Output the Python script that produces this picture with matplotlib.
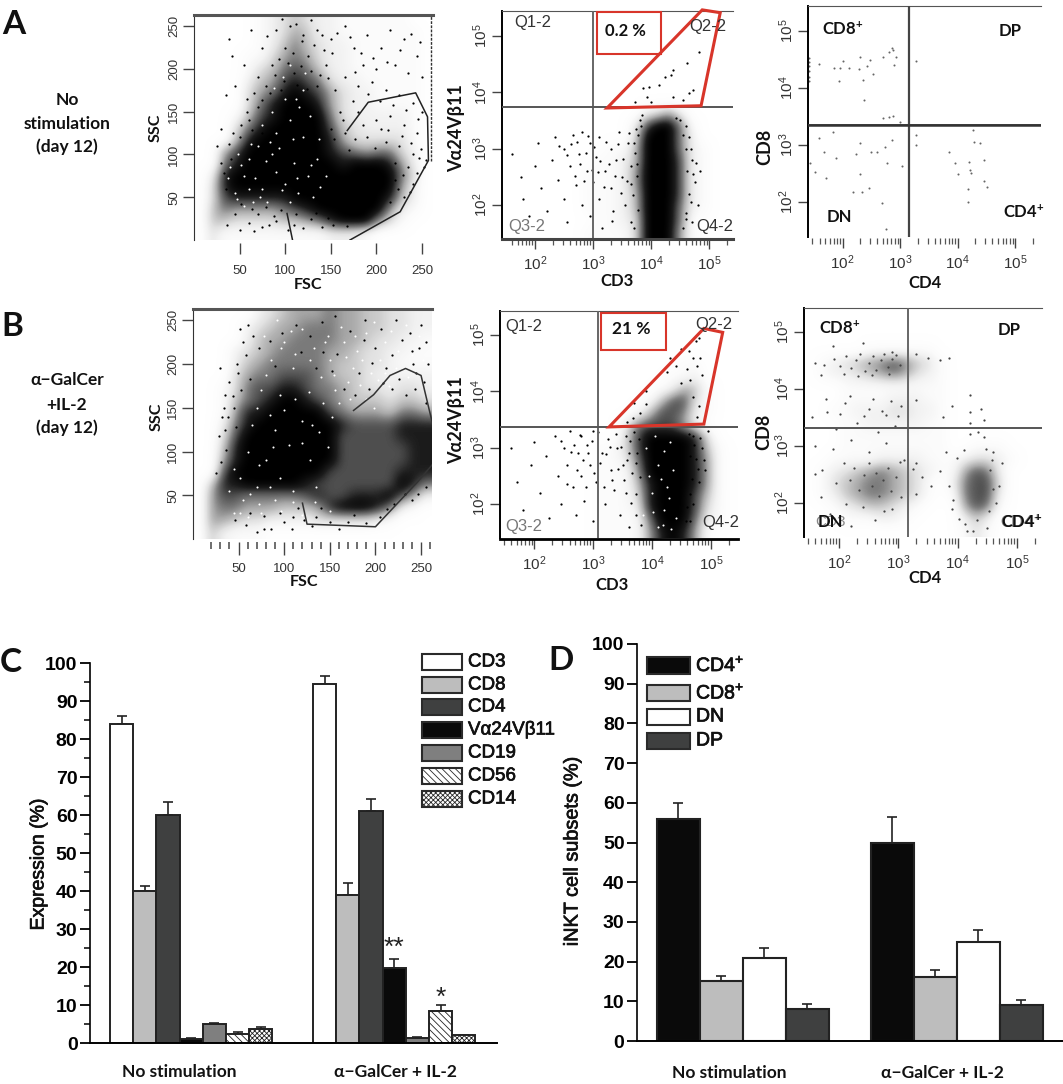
import numpy as np
import matplotlib
matplotlib.use("Agg")
import matplotlib.pyplot as plt
import matplotlib.patheffects as pe
from matplotlib.colors import LinearSegmentedColormap
from matplotlib.patches import Rectangle
from matplotlib.ticker import FixedLocator, NullFormatter

W, H = 1063, 1084

# bar charts
C_GROUPS = ["No stimulation", "α−GalCer + IL-2"]
C_MARKERS = ["CD3", "CD8", "CD4", "Vα24Vβ11", "CD19", "CD56", "CD14"]
C_NOSTIM = [84, 40, 60, 1, 5, 2.5, 3.7]
C_NOSTIM_TOP = [86, 41.3, 63.4, 1.2, 5.3, 2.8, 4.3]
C_GALCER = [94.5, 39, 61, 19.7, 1.3, 8.5, 2]
C_GALCER_TOP = [96.7, 42.2, 64.2, 22.2, 1.6, 10, 2.2]

D_SUBSETS = ["CD4$\\mathregular{^{+}}$", "CD8$\\mathregular{^{+}}$", "DN", "DP"]
D_NOSTIM = [56, 15, 21, 8]
D_NOSTIM_TOP = [60, 16.3, 23.5, 9.2]
D_GALCER = [50, 16, 25, 9]
D_GALCER_TOP = [56.3, 18, 28, 10.4]

# flow plots: coarse density, 0 empty .. 9 black, top row first
A1_DENSITY = [
    "00000123432211111100",
    "00000123542211111110",
    "00000124643221111110",
    "00001135653221111110",
    "00001346764221111110",
    "00002457876322111110",
    "00003568987532211110",
    "00003689998532211110",
    "00014789999632222210",
    "00036899999743222210",
    "00048999999853333310",
    "00579999999876566320",
    "00689999999989998520",
    "02899999999999999630",
    "03899999999999999520",
    "03788888999999998420",
    "04655556789999995210",
    "04433334456899953100",
    "03111111111222100000",
]
A2_DENSITY = [
    "00000000000000000000",
    "00000000000000000000",
    "00000000000000000000",
    "00000000000000000000",
    "00000000000000000000",
    "00000000000000000000",
    "00000000000000000000",
    "00000000000000000000",
    "00000000000023520000",
    "00000000000279961000",
    "00000000000399962000",
    "00000000011499962100",
    "00000000112499972100",
    "00000001112599972100",
    "00000001112599972100",
    "00000001112499972100",
    "00000001112499962100",
    "00000000112399961000",
    "00000001111399951000",
]
B1_DENSITY = [
    "00000234555655443322",
    "00002345566655443322",
    "00002455666655433221",
    "00023456666554332211",
    "00024566666544332111",
    "00035667776544322222",
    "00136778876654332332",
    "00146789987654443443",
    "00158899999765554665",
    "00268999999987777888",
    "00379999999977777888",
    "00489999999977777788",
    "00589999999977777788",
    "00799999999777777888",
    "04889999987777777986",
    "05776666678778889752",
    "05665554445899986210",
    "05543322223333321000",
    "04211100000000000000",
]
B2_DENSITY = [
    "00000000000000000000",
    "00000000000000000000",
    "00000000000000000000",
    "00000000000000000000",
    "00000000000000011000",
    "00000000000000112000",
    "00000000000001254100",
    "00000000000014773100",
    "00000000000147762100",
    "00000000002677752000",
    "00000000003799998300",
    "00000000113799998410",
    "00000000112699998510",
    "00000000111599998510",
    "00000000111489998510",
    "00000000111389997410",
    "00000000111289997310",
    "00000000111169996210",
    "00000000111158985100",
]
B3_DENSITY = [
    "00000000000000000000",
    "00000000000000000000",
    "00000000000000000000",
    "00000111111000000000",
    "01234567643100000000",
    "01223456532100000000",
    "00011111111100000000",
    "00011112221100000000",
    "00112223322100000000",
    "00011222221100000000",
    "00011111111100000000",
    "00011111111100111000",
    "00111122221112332100",
    "01234565432115762000",
    "01345665431026773000",
    "01245665431016772000",
    "00123443210005761000",
    "00011122100002420000",
    "00000000000001310000",
]

A1_DOTS = [(38, 235), (42, 215), (55, 205), (62, 245), (75, 225), (80, 238), (70, 190), (45, 180), (58, 165),
           (90, 245), (105, 250), (120, 240), (135, 245), (150, 235), (165, 250), (175, 225), (190, 240),
           (205, 225), (215, 245), (230, 235), (245, 215), (250, 190), (235, 195), (220, 205), (200, 200),
           (185, 205), (165, 190), (155, 175), (180, 180), (195, 185), (210, 175), (225, 170), (240, 160),
           (250, 150), (245, 125), (230, 135), (215, 145), (200, 140), (180, 150), (160, 150), (150, 130),
           (165, 125), (190, 120), (210, 115), (225, 110), (240, 100), (252, 85), (235, 85), (220, 70),
           (240, 65), (230, 50), (215, 45), (35, 170), (30, 130), (25, 110), (30, 90), (35, 60), (60, 20),
           (75, 15), (50, 12), (90, 22), (120, 14), (140, 15), (128, 25), (70, 30), (95, 35), (45, 30),
           (140, 240), (100, 225), (125, 215), (85, 205), (110, 195), (145, 205), (95, 175), (135, 180),
           (60, 140), (70, 155), (50, 120), (75, 125), (170, 105), (185, 135), (205, 130), (220, 90),
           (97, 258), (112, 252), (128, 257), (118, 233), (131, 228), (143, 222), (108, 218), (93, 212),
           (103, 207), (117, 203), (128, 198), (138, 193), (89, 193), (99, 186), (113, 181), (124, 176),
           (147, 189), (151, 218), (157, 242), (171, 237), (183, 218), (196, 213), (212, 208), (226, 222),
           (238, 241), (248, 232), (177, 196), (191, 171), (204, 162), (218, 158), (232, 152), (246, 142),
           (174, 162), (163, 140), (154, 118), (176, 118), (198, 108), (213, 128), (228, 122), (238, 113),
           (249, 106), (254, 93), (244, 78), (229, 76), (237, 56), (224, 60), (247, 96), (83, 172), (74, 164),
           (66, 172), (79, 180), (58, 150), (64, 128), (52, 135), (43, 125), (38, 112), (41, 95), (33, 78),
           (88, 28), (110, 18), (103, 12), (82, 18), (66, 10), (134, 32), (147, 26), (152, 18), (36, 18),
           (168, 16), (64, 36), (51, 42), (79, 38), (112, 30)]
A1_GAPS = [(40, 85), (55, 75), (60, 95), (75, 60), (85, 100), (100, 65), (110, 90), (120, 120), (130, 50),
           (60, 60), (45, 55), (90, 125), (105, 140), (145, 75), (90, 80), (70, 110), (48, 100), (125, 75),
           (80, 45), (105, 45), (65, 45), (55, 40), (115, 155), (85, 150), (100, 165), (120, 175), (135, 95),
           (52, 88), (67, 72), (79, 92), (96, 58), (113, 72), (37, 72), (62, 112), (74, 135), (93, 108),
           (108, 118), (127, 145), (137, 118), (98, 190), (112, 165), (122, 195), (105, 205), (88, 178),
           (128, 88), (114, 55), (72, 50), (47, 48), (138, 62), (83, 115)]
A1_GATE_LEFT = ([102, 108], [31, 0])
A1_GATE_X = [171, 226, 257, 256, 243, 191, 168]
A1_GATE_Y = [0, 33, 93, 144, 172, 161, 128]

B1_DOTS = [(30, 195), (35, 165), (34, 150), (32, 140), (40, 180), (48, 200), (55, 225), (60, 245), (25, 75),
           (35, 125), (45, 150), (250, 245), (255, 225), (240, 215), (258, 200), (245, 190), (130, 15),
           (110, 25), (85, 12), (100, 20), (70, 8), (95, 30), (115, 35), (135, 25), (150, 20), (170, 20),
           (190, 18), (205, 25), (220, 40), (240, 45), (255, 60), (52, 240), (66, 232), (72, 218), (58, 210),
           (49, 190), (62, 183), (44, 163), (53, 170), (38, 140), (47, 128), (28, 118), (36, 102), (31, 88),
           (206, 240), (223, 250), (238, 235), (229, 228), (248, 218), (218, 210), (200, 218), (187, 228),
           (212, 196), (196, 201), (182, 190), (241, 200), (253, 180), (226, 183), (208, 178), (193, 172),
           (178, 165), (165, 172), (152, 192), (143, 214), (128, 232), (113, 245), (98, 235), (84, 226),
           (90, 198), (118, 214), (135, 196), (158, 212), (172, 238), (189, 250), (156, 255), (141, 248),
           (243, 172), (255, 155), (234, 165), (218, 172), (78, 12), (58, 16), (46, 22), (62, 30), (78, 26),
           (122, 22), (108, 12), (140, 35), (160, 12), (176, 28), (213, 34), (232, 52), (247, 52)]
B1_GAPS = [(190, 235), (210, 225), (225, 215), (205, 205), (230, 195), (195, 190), (180, 215), (165, 225),
           (150, 205), (170, 180), (215, 175), (190, 160), (160, 155), (140, 185), (120, 240), (100, 225),
           (85, 205), (110, 195), (75, 170), (95, 165), (65, 130), (90, 125), (120, 135), (45, 80), (60, 100),
           (80, 90), (95, 70), (120, 110), (70, 60), (40, 55), (55, 45), (90, 45), (110, 55), (135, 60),
           (60, 25), (75, 30), (45, 30), (130, 130), (240, 210), (175, 195), (210, 190), (145, 225),
           (78, 232), (92, 250), (107, 238), (133, 218), (148, 232), (162, 242), (178, 232), (198, 248),
           (217, 238), (234, 245), (248, 232), (252, 205), (236, 185), (222, 195), (203, 182), (185, 205),
           (168, 208), (155, 188), (128, 205), (112, 212), (96, 218), (80, 188), (70, 150), (84, 142),
           (100, 148), (112, 160), (127, 168), (142, 155), (156, 170), (172, 160), (183, 176), (198, 150),
           (152, 140), (138, 122), (105, 108), (72, 85), (52, 70), (88, 105), (128, 90), (148, 105), (62, 52),
           (84, 60), (110, 42), (134, 42), (72, 40), (96, 32), (52, 30), (120, 28), (150, 32)]
B1_GATE_X = [120, 125, 200, 246, 268]
B1_GATE_Y = [41, 17, 14, 65, 92]
B1_GATE_TOP_X = [176, 198, 216, 233, 250, 255, 263]
B1_GATE_TOP_Y = [147, 165, 187, 195, 187, 165, 130]

A2_DOTS = [(4.83, 4.72), (4.62, 4.51), (4.38, 4.39), (4.34, 4.30), (4.24, 4.27), (3.86, 4.07), (3.97, 4.09),
           (4.14, 4.12), (4.72, 4.04), (4.66, 3.98), (3.93, 3.92), (4.38, 3.92), (3.72, 3.83), (4.0, 3.83),
           (4.55, 3.86), (1.6, 2.9), (1.75, 2.5), (1.8, 2.1), (1.9, 1.8), (2.0, 2.7), (2.05, 3.1), (2.1, 2.3),
           (2.2, 1.9), (2.3, 2.8), (2.35, 3.2), (2.4, 2.45), (2.5, 3.0), (2.5, 2.1), (2.55, 1.7), (2.6, 2.7),
           (2.65, 3.25), (2.7, 2.35), (2.75, 2.9), (2.8, 3.3), (2.8, 2.0), (2.9, 2.6), (2.95, 3.1), (2.95, 1.8),
           (3.0, 2.4), (3.05, 2.85), (3.1, 3.2), (3.1, 2.1), (3.15, 1.6), (3.2, 2.6), (3.3, 3.0), (3.3, 2.3),
           (3.35, 1.9), (3.4, 2.8), (3.45, 3.3), (3.5, 2.5), (3.55, 2.0), (3.6, 3.1), (3.65, 2.7), (3.65, 1.7),
           (4.65, 3.2), (4.7, 2.8), (4.75, 2.4), (4.8, 2.0), (4.7, 1.7), (4.85, 2.6), (4.6, 3.4), (4.55, 1.6),
           (2.42, 3.05), (2.55, 2.88), (2.62, 3.08), (2.68, 2.52), (2.72, 3.12), (2.78, 2.72), (2.84, 2.42),
           (2.88, 2.92), (2.92, 3.22), (2.98, 2.62), (3.02, 3.02), (3.08, 2.58), (3.12, 2.78), (3.18, 2.32),
           (3.22, 3.12), (3.28, 2.72), (3.32, 1.72), (3.38, 2.52), (3.42, 3.08), (3.48, 2.22), (3.52, 2.82),
           (3.58, 2.42), (3.62, 3.28), (3.68, 2.18), (3.72, 2.92), (3.75, 2.52), (3.78, 1.92), (3.74, 3.35),
           (3.71, 3.1), (3.66, 2.38), (3.7, 1.6), (4.6, 3.0), (4.62, 2.6), (4.65, 2.2), (4.6, 1.85),
           (4.68, 3.0), (4.72, 2.55), (4.78, 2.75), (4.68, 2.05), (4.55, 3.25), (4.42, 3.55), (3.8, 3.5),
           (3.85, 3.6), (3.78, 3.25), (3.76, 2.72), (3.82, 3.4), (4.5, 3.5), (4.6, 1.75)]
B2_DOTS = [(4.6, 4.4), (4.7, 4.6), (4.75, 4.9), (4.65, 4.2), (4.3, 4.6), (4.85, 4.3), (4.5, 4.75), (4.25, 4.35),
           (3.9, 4.0), (3.7, 3.8), (4.7, 3.9), (1.6, 3.0), (1.7, 2.4), (1.8, 1.9), (1.95, 2.7), (2.0, 3.1),
           (2.1, 2.2), (2.2, 2.85), (2.25, 1.75), (2.35, 3.2), (2.4, 2.5), (2.45, 2.0), (2.5, 3.0), (2.55, 2.7),
           (2.6, 3.3), (2.65, 2.3), (2.7, 1.8), (2.75, 2.9), (2.8, 3.2), (2.8, 2.5), (2.85, 2.05), (2.9, 3.05),
           (2.95, 2.7), (3.0, 3.3), (3.0, 1.7), (3.05, 2.4), (3.15, 2.9), (3.2, 2.0), (3.25, 3.15), (3.3, 2.6),
           (3.35, 2.25), (3.4, 3.0), (3.45, 1.8), (3.5, 2.7), (3.55, 3.2), (3.55, 2.2), (3.6, 2.9), (3.6, 1.6),
           (4.7, 3.2), (4.75, 2.8), (4.8, 2.4), (4.85, 3.0), (4.7, 2.0), (4.9, 2.6), (4.65, 1.7), (4.95, 3.3),
           (2.45, 3.12), (2.55, 2.35), (2.62, 2.92), (2.68, 3.05), (2.72, 2.6), (2.78, 3.22), (2.82, 2.78),
           (2.88, 2.3), (2.92, 2.9), (2.98, 3.12), (3.02, 2.55), (3.08, 3.28), (3.12, 2.72), (3.18, 2.3),
           (3.22, 2.88), (3.28, 3.02), (3.32, 2.42), (3.38, 3.25), (3.42, 2.62), (3.48, 3.02), (3.52, 2.42),
           (3.58, 2.78), (3.62, 3.12), (3.66, 2.55), (3.7, 3.28), (3.72, 2.18), (3.75, 2.9), (3.78, 3.15),
           (3.65, 2.02), (3.72, 1.8), (3.8, 2.48), (3.82, 1.62), (3.72, 2.72), (4.62, 3.25), (4.65, 2.85),
           (4.68, 2.45), (4.72, 3.05), (4.78, 2.62), (4.82, 3.18), (4.88, 2.78), (4.64, 2.18), (4.6, 1.95),
           (4.58, 1.7), (4.4, 4.45), (4.5, 4.15), (4.62, 4.72), (4.8, 4.95), (4.76, 4.45), (4.82, 4.6),
           (3.58, 3.45), (3.68, 3.52), (3.8, 3.62), (3.9, 3.78), (4.76, 3.55), (4.8, 3.75)]
B2_GAPS = [(3.9, 3.0), (4.1, 2.7), (4.25, 2.3), (4.0, 2.2), (4.2, 1.9), (3.85, 1.8), (4.3, 3.1), (4.1, 1.6),
           (4.35, 2.6), (4.05, 3.2), (3.95, 2.5), (4.4, 1.75), (4.2, 2.95), (4.15, 2.45), (4.28, 2.1),
           (4.02, 1.85), (4.18, 1.62), (4.32, 1.55)]

A3_DOTS = [(1.59, 4.43), (1.85, 4.35), (1.95, 4.35), (2.01, 4.48), (2.11, 4.35), (2.28, 4.33), (2.30, 4.55),
           (2.43, 4.39), (2.48, 4.49), (2.52, 4.25), (2.71, 4.55), (2.81, 4.64), (2.85, 4.71), (2.88, 4.67),
           (2.90, 4.40), (2.92, 4.55), (1.94, 4.12), (2.35, 4.15), (2.37, 3.79), (3.28, 4.47), (2.70, 3.47),
           (2.81, 3.50), (2.87, 3.51), (2.99, 3.41), (1.59, 3.12), (1.83, 3.22), (2.30, 3.03), (2.85, 3.09),
           (2.73, 2.97), (2.50, 2.88), (2.59, 2.88), (2.24, 2.84), (1.68, 2.88), (1.88, 2.78), (1.43, 2.68),
           (1.52, 2.53), (1.71, 2.43), (2.78, 2.69), (3.03, 2.63), (2.30, 2.49), (2.18, 2.18), (2.33, 2.18),
           (2.46, 2.25), (2.68, 1.98), (2.76, 1.52), (3.28, 3.18), (3.28, 3.00), (4.26, 3.27), (4.28, 3.06),
           (4.39, 3.03), (3.85, 2.88), (3.95, 2.68), (4.19, 2.70), (4.45, 2.73), (4.21, 2.56), (4.23, 2.51),
           (4.01, 2.49), (4.45, 2.37), (4.50, 2.27), (4.18, 2.22), (4.18, 2.00), (1.42, 4.2), (1.42, 4.3),
           (1.42, 4.38), (1.42, 4.45), (1.42, 4.52), (1.42, 4.12)]
B3_DOTS = [(1.9, 4.75), (2.4, 4.8), (2.9, 4.65), (3.3, 4.62), (3.5, 4.55), (3.7, 4.5), (3.85, 4.55), (4.2, 3.9),
           (3.3, 3.8), (3.9, 3.7), (4.2, 3.6), (4.4, 3.65), (4.45, 3.45), (4.2, 3.4), (4.35, 3.25), (3.75, 3.5),
           (1.6, 4.45), (1.7, 4.25), (1.55, 3.5), (1.8, 3.6), (1.95, 3.3), (2.1, 3.75), (2.3, 3.4), (2.5, 3.65),
           (2.65, 3.25), (2.8, 3.55), (2.95, 3.35), (3.05, 3.7), (1.6, 3.0), (1.9, 2.95), (2.2, 3.1), (2.5, 2.9),
           (2.8, 3.05), (3.1, 2.75), (1.6, 2.5), (1.7, 2.1), (1.85, 1.8), (2.2, 1.6), (2.6, 1.7), (2.9, 1.9),
           (3.3, 2.7), (3.4, 2.45), (3.55, 2.3), (3.3, 2.15), (3.25, 2.6), (3.8, 2.9), (4.6, 2.9), (4.75, 2.7),
           (4.7, 2.3), (4.65, 2.0), (4.45, 3.15), (4.2, 3.2), (3.9, 1.9), (4.5, 1.55), (4.15, 1.5),
           (1.75, 4.42), (1.92, 4.52), (2.02, 4.4), (2.12, 4.58), (2.2, 4.36), (2.28, 4.5), (2.36, 4.62),
           (2.44, 4.32), (2.5, 4.46), (2.58, 4.58), (2.62, 4.34), (2.7, 4.5), (2.76, 4.62), (2.82, 4.38),
           (2.9, 4.52), (2.96, 4.6), (3.02, 4.42), (2.08, 4.26), (2.32, 4.22), (2.56, 4.24), (2.84, 4.26),
           (1.78, 3.82), (2.02, 3.56), (2.18, 3.88), (2.42, 3.52), (2.58, 3.82), (2.72, 3.62), (2.88, 3.78),
           (3.0, 3.52), (1.72, 2.58), (1.95, 2.35), (2.08, 2.7), (2.18, 2.4), (2.26, 2.62), (2.34, 2.22),
           (2.42, 2.48), (2.5, 2.7), (2.56, 2.3), (2.62, 2.52), (2.68, 2.12), (2.74, 2.4), (2.82, 2.62),
           (2.88, 2.2), (2.96, 2.46), (3.02, 2.72), (2.12, 1.98), (2.4, 1.92), (2.76, 1.86), (3.05, 2.1),
           (3.7, 2.55), (3.85, 2.3), (3.92, 2.05), (3.98, 2.78), (4.02, 1.72), (4.1, 2.92), (4.12, 1.62),
           (4.55, 2.58), (4.6, 2.25), (4.58, 2.75), (4.48, 2.95), (4.52, 1.85), (4.25, 1.5), (4.32, 1.7)]

# gates and quadrant split lines, in log10 units for the fluorescence plots
A2_SPLIT = (3.0, 3.73)
A2_GATE_X = [3.24, 4.88, 5.19, 4.86]
A2_GATE_Y = [3.72, 5.46, 5.41, 3.76]
A2_BOX = (3.07, 4.68, 4.17, 5.43)
A3_SPLIT = (3.16, 3.35)
B2_SPLIT = (3.08, 3.37)
B2_GATE_X = [3.27, 4.88, 5.20, 4.88]
B2_GATE_Y = [3.37, 5.12, 5.05, 3.42]
B2_BOX = (3.14, 4.73, 4.24, 5.39)
B3_SPLIT = (3.17, 3.31)

LOG_TICKS = [2, 3, 4, 5]
LOG_LABELS = ["$\\mathregular{10^{%d}}$" % t for t in LOG_TICKS]
SCATTER_TICKS = [50, 100, 150, 200, 250]

BAR_C_STYLE = [("white", None), ("#bdbdbd", None), ("#3f4040", None), ("#0a0a0a", None),
               ("#7f7f7f", None), ("white", "\\\\\\\\\\"), ("white", "xxxxxxx")]
BAR_D_COLORS = ["#0a0a0a", "#bdbdbd", "white", "#3f4040"]

plt.rcParams["font.family"] = ["Liberation Sans", "DejaVu Sans"]
plt.rcParams["hatch.linewidth"] = 0.6
BOLD_FONT = ["Lato", "Noto Sans", "DejaVu Sans"]
HEAVY = [pe.withStroke(linewidth=0.5, foreground="#111111")]
GRAY = LinearSegmentedColormap.from_list(
    "flow", ["#ffffff", "#fbfbfb", "#f2f2f2", "#e2e2e2", "#c8c8c8", "#a8a8a8", "#7a7a7a", "#505050", "#1c1c1c", "#000000"])

fig = plt.figure(figsize=(W / 100, H / 100), dpi=100)


def px_axes(left, top, right, bottom):
    return fig.add_axes([left / W, 1 - bottom / H, (right - left) / W, (bottom - top) / H])


def label(x, y, s, **kw):
    kw.setdefault("ha", "center")
    kw.setdefault("va", "center")
    return fig.text(x / W, 1 - y / H, s, **kw)


def bold(x, y, s, size=11.5, **kw):
    return label(x, y, s, fontweight="bold", fontsize=size, family=BOLD_FONT, color="#111111", **kw)


def draw_density(ax, rows):
    grid = np.array([[int(c) for c in row] for row in rows], dtype=float)
    x0, x1 = ax.get_xlim()
    y0, y1 = ax.get_ylim()
    ax.imshow(grid, extent=[x0, x1, y0, y1], cmap=GRAY, vmin=0, vmax=9,
              interpolation="bicubic", aspect="auto", zorder=0)


def draw_dots(ax, dots, color="black", size=2.6):
    xs, ys = zip(*dots)
    ax.scatter(xs, ys, s=size, c=color, linewidths=0, zorder=1)


def scatter_panel(box, top_lim, density, dots, gaps):
    ax = px_axes(*box)
    ax.set_xlim(0, 262)
    ax.set_ylim(0, top_lim)
    draw_density(ax, density)
    draw_dots(ax, dots)
    draw_dots(ax, gaps, color="white", size=2.2)
    ax.spines["right"].set_visible(False)
    ax.spines["bottom"].set_position(("outward", 2))
    ax.spines["bottom"].set_visible(False)
    ax.spines["top"].set_linewidth(2.2)
    ax.spines["top"].set_color("#555555")
    ax.spines["left"].set_color("#333333")
    ax.set_xticks(SCATTER_TICKS)
    ax.set_yticks(SCATTER_TICKS)
    ax.tick_params(axis="x", length=8, width=1, color="#444444", labelsize=9.5, labelcolor="#333333", pad=8)
    ax.tick_params(axis="y", length=8, width=1, color="#444444", labelsize=9.5, labelcolor="#333333", pad=2)
    plt.setp(ax.get_yticklabels(), rotation=90, va="center")
    return ax


def log_panel(box, xlim, ylim, split):
    ax = px_axes(*box)
    ax.set_xlim(*xlim)
    ax.set_ylim(*ylim)
    ax.set_xticks(LOG_TICKS)
    ax.set_xticklabels(LOG_LABELS)
    ax.set_yticks(LOG_TICKS)
    ax.set_yticklabels(LOG_LABELS, rotation=90, va="center")
    minor = [t + np.log10(k) for t in range(1, 6) for k in range(2, 10)]
    minor = [m for m in minor if xlim[0] + 0.05 < m < xlim[1] - 0.05]
    ax.xaxis.set_minor_locator(FixedLocator(minor))
    ax.xaxis.set_minor_formatter(NullFormatter())
    ax.tick_params(axis="x", which="major", length=7, width=1, color="#444444", labelsize=11, labelcolor="#333333", pad=4)
    ax.tick_params(axis="x", which="minor", length=4, width=0.9, color="#555555")
    ax.tick_params(axis="y", length=7, width=1, color="#444444", labelsize=11, labelcolor="#333333", pad=2)
    ax.axvline(split[0], color="#666666", lw=1.4, zorder=3)
    ax.axhline(split[1], color="#555555", lw=1.4, zorder=3)
    ax.spines["right"].set_visible(False)
    ax.spines["bottom"].set_position(("outward", 1))
    ax.spines["left"].set_linewidth(1.4)
    ax.spines["top"].set_color("#555555")
    return ax


def red_gate(ax, xs, ys, box):
    ax.fill(xs, ys, fill=False, edgecolor="#d8352a", lw=2.2, zorder=4, clip_on=False)
    ax.add_patch(Rectangle((box[0], box[1]), box[2] - box[0], box[3] - box[1], fill=False,
                           edgecolor="#d8352a", lw=1.5, zorder=4, clip_on=False))


def bar_panel(box, xlim, ymax_minor):
    ax = px_axes(*box)
    ax.set_xlim(*xlim)
    ax.set_ylim(0, 100)
    ax.set_yticks(range(0, 101, 10))
    ax.spines["top"].set_visible(False)
    ax.spines["right"].set_visible(False)
    ax.spines["left"].set_linewidth(1.2)
    ax.spines["bottom"].set_linewidth(1.4)
    ax.set_xticks([])
    ax.tick_params(axis="y", length=7, width=1.3, labelsize=14, pad=2)
    for t in ax.get_yticklabels():
        t.set_fontweight("bold")
    if ymax_minor:
        ax.yaxis.set_minor_locator(FixedLocator(range(5, 100, 10)))
        ax.tick_params(axis="y", which="minor", length=4, width=1.1)
    return ax


def legend_row(x0, x1, y0, y1, text, color, hatch, size):
    fig.add_artist(Rectangle((x0 / W, 1 - y1 / H), (x1 - x0) / W, (y1 - y0) / H, transform=fig.transFigure,
                             facecolor=color, hatch=hatch, edgecolor="#2a2a2a", lw=1.5))
    t = label(x1 + 6, (y0 + y1) / 2, text, ha="left", fontsize=size, color="#111111")
    t.set_path_effects(HEAVY)


# ---- A ----
ax = scatter_panel((194, 15, 433, 240), 263, A1_DENSITY, A1_DOTS, A1_GAPS)
ax.plot(*A1_GATE_LEFT, color="#222222", lw=1.1, zorder=3)
ax.plot(A1_GATE_X, A1_GATE_Y, color="#222222", lw=1.1, zorder=3)
ax.axvline(260, color="#333333", lw=1, ls=(0, (2, 1)), ymin=0.35, ymax=1)

ax = log_panel((502, 11, 733, 238), (1.43, 5.41), (1.415, 5.44), A2_SPLIT)
draw_density(ax, A2_DENSITY)
draw_dots(ax, A2_DOTS)
red_gate(ax, A2_GATE_X, A2_GATE_Y, A2_BOX)
ax.spines["bottom"].set_linewidth(2.2)
ax.spines["bottom"].set_color("#444444")

ax = log_panel((808, 6, 1041, 237), (1.40, 5.445), (1.386, 5.44), A3_SPLIT)
draw_dots(ax, A3_DOTS, color="#666666", size=2.2)
ax.spines["bottom"].set_visible(False)
ax.axvline(A3_SPLIT[0], color="#444444", lw=1.6, zorder=3)
ax.axhline(A3_SPLIT[1], color="#333333", lw=1.8, zorder=3)

# ---- B ----
ax = scatter_panel((193, 309, 432, 539), 263, B1_DENSITY, B1_DOTS, B1_GAPS)
ax.plot(B1_GATE_X, B1_GATE_Y, color="#333333", lw=1.1, zorder=3)
ax.plot(B1_GATE_TOP_X, B1_GATE_TOP_Y, color="#333333", lw=1.1, zorder=3)
ax.xaxis.set_minor_locator(FixedLocator(range(20, 262, 10)))
ax.tick_params(axis="x", which="minor", length=5, width=1.2, color="#555555")
ax.tick_params(axis="x", which="major", length=9, pad=6)

ax = log_panel((500, 311, 738, 538), (1.417, 5.46), (1.396, 5.43), B2_SPLIT)
draw_density(ax, B2_DENSITY)
draw_dots(ax, B2_DOTS)
draw_dots(ax, B2_GAPS, color="white", size=2.2)
red_gate(ax, B2_GATE_X, B2_GATE_Y, B2_BOX)
ax.spines["bottom"].set_linewidth(2.0)

ax = log_panel((804, 308, 1042, 537), (1.41, 5.42), (1.40, 5.42), B3_SPLIT)
draw_density(ax, B3_DENSITY)
draw_dots(ax, B3_DOTS, color="#444444", size=2.6)
ax.spines["bottom"].set_visible(False)

# ---- C ----
ax = bar_panel((90, 663, 497, 1043), (0, 17.54), True)
for start, vals, tops in [(1.36, C_NOSTIM, C_NOSTIM_TOP), (10.11, C_GALCER, C_GALCER_TOP)]:
    for i, (v, top) in enumerate(zip(vals, tops)):
        color, hatch = BAR_C_STYLE[i]
        ax.bar(start + i, v, width=1, color=color, hatch=hatch, edgecolor="#222222", lw=1.4, zorder=2)
        ax.errorbar(start + i, v, yerr=[[0], [top - v]], color="#222222", capsize=3.5, lw=1.2,
                    capthick=1.2, zorder=1)
ax.text(10.11 + 3, C_GALCER_TOP[3] - 0.4, "**", ha="center", va="bottom", fontsize=19, color="#222222")
ax.text(10.11 + 5, C_GALCER_TOP[5] - 1.4, "*", ha="center", va="bottom", fontsize=19, color="#222222")

legend_c_y = [662, 685, 707, 730, 753, 776, 799]
for name, (color, hatch), yc in zip(C_MARKERS, BAR_C_STYLE, legend_c_y):
    legend_row(422, 462, yc - 8, yc + 8, name, color, hatch, 13.5)

bold(179, 1072, C_GROUPS[0], size=12.5)
bold(395, 1072, C_GROUPS[1], size=12.5)
label(39, 864, "Expression (%)", rotation=90, fontsize=14, color="#111111").set_path_effects(HEAVY)

# ---- D ----
ax = bar_panel((637, 644, 1063, 1041), (0, 9.907), False)
for start, vals, tops in [(0.965, D_NOSTIM, D_NOSTIM_TOP), (5.94, D_GALCER, D_GALCER_TOP)]:
    for i, (v, top) in enumerate(zip(vals, tops)):
        ax.bar(start + i, v, width=1, color=BAR_D_COLORS[i], edgecolor="#222222", lw=1.5, zorder=2)
        ax.errorbar(start + i, v, yerr=[[0], [top - v]], color="#222222", capsize=3.5, lw=1.2,
                    capthick=1.2, zorder=1)
legend_d_y = [(657, 674), (685, 701), (709, 725), (733, 749)]
for name, color, (y0, y1) in zip(D_SUBSETS, BAR_D_COLORS, legend_d_y):
    legend_row(647, 690, y0, y1, name, color, None, 14)
bold(729, 1073, C_GROUPS[0], size=12.5)
bold(942, 1073, C_GROUPS[1], size=12.5)
label(572, 851, "iNKT cell subsets (%)", rotation=90, fontsize=14.3, color="#111111").set_path_effects(HEAVY)

# ---- flow labels ----
bold(14, 25, "A", size=24)
bold(12, 326, "B", size=24)
bold(11, 663, "C", size=24)
bold(561, 661, "D", size=24)

for y, s in zip([100, 124, 147], ["No", "stimulation", "(day 12)"]):
    bold(67, y, s, size=12.5)
for y, s in zip([380, 405, 428], ["α−GalCer", "+IL-2", "(day 12)"]):
    bold(67, y, s, size=12.5)

bold(308, 285, "FSC")
bold(304, 582, "FSC")
bold(156, 128, "SSC", rotation=90)
bold(157, 417, "SSC", rotation=90)
bold(617, 281, "CD3", size=12)
bold(612, 585, "CD3", size=12)
bold(925, 283, "CD4", size=12)
bold(925, 578, "CD4", size=12)
bold(457, 128, "Vα24Vβ11", rotation=90, size=13)
bold(457, 420, "Vα24Vβ11", rotation=90, size=13)
bold(765, 147, "CD8", rotation=90, size=13)
bold(764, 432, "CD8", rotation=90, size=13)

for x, y, s, c in [(533, 23, "Q1-2", "#333333"), (708, 26, "Q2-2", "#333333"), (527, 227, "Q3-2", "#777777"),
                   (715, 227, "Q4-2", "#333333"), (524, 327, "Q1-2", "#333333"), (714, 324, "Q2-2", "#333333"),
                   (524, 527, "Q3-2", "#777777"), (721, 522, "Q4-2", "#333333")]:
    label(x, y, s, fontsize=12, color=c)
bold(625, 31, "0.2 %", size=12)
bold(631, 329, "21 %", size=12.5)

bold(843, 29, "CD8$\\mathregular{^{+}}$", size=12)
bold(1010, 31, "DP", size=12)
bold(839, 217, "DN", size=12)
bold(1024, 212, "CD4$\\mathregular{^{+}}$", size=12)
bold(840, 328, "CD8$\\mathregular{^{+}}$", size=12)
bold(1009, 330, "DP", size=12)
label(831, 522, "CD3", fontsize=11, color="#888888")
bold(830, 522, "DN", size=12)
label(1021, 522, "CD4$\\mathregular{^{+}}$", fontsize=12, fontweight="bold", color="#777777", family=BOLD_FONT)
bold(1022, 522, "CD4$\\mathregular{^{+}}$", size=12)

fig.savefig("out.png", dpi=100)
